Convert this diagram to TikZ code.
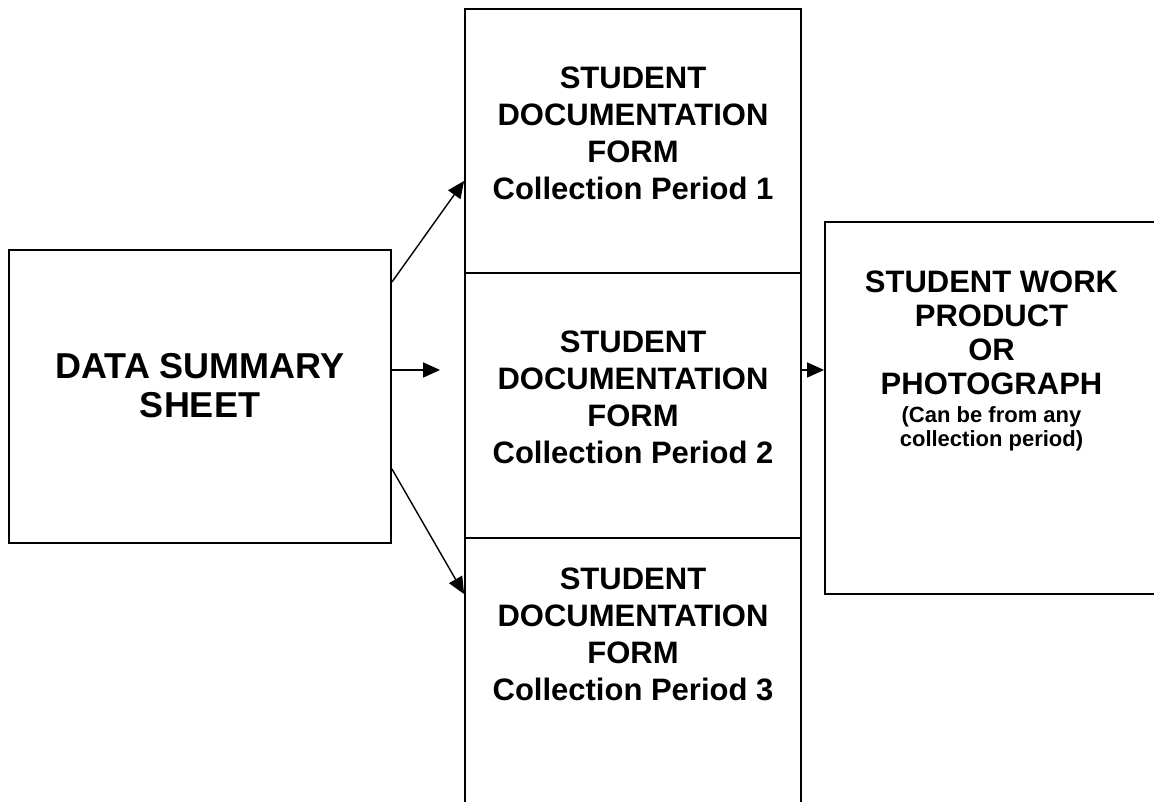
\documentclass[tikz,border=0pt]{standalone}
\usepackage{fontspec}
\setmainfont{Liberation Sans}
\usetikzlibrary{calc,arrows.meta}

\tikzset{
	box/.style={draw, line width=1.8pt, inner sep=0pt},
	bigtxt/.style={align=center, font=\fontsize{36}{39}\selectfont\bfseries},
	formtxt/.style={align=center, font=\fontsize{31}{37}\selectfont\bfseries},
	arr/.style={line width=1.4pt, -{Triangle[length=17pt,width=15pt]}}
}

\begin{document}
\begin{tikzpicture}[x=1pt, y=1pt]
			%%%%% START %%%%%
			\useasboundingbox (0, 0) rectangle (1154, 802);
			\clip (0, 0) rectangle (1154, 802);
			
			\node[box, minimum width=382pt, minimum height=293pt] (sheet) at (200, 405.5) {};
			\node[bigtxt] (sheettxt) at ([yshift=11pt]sheet.center) {DATA SUMMARY\\SHEET};
			
			\node[box, minimum width=336pt, minimum height=264pt] (form1) at (633, 661) {};
			\node[box, minimum width=336pt, minimum height=265pt] (form2) at (633, 396.5) {};
			\node[box, minimum width=336pt, minimum height=265pt] (form3) at (633, 131.5) {};
			
			\node[formtxt] (form1txt) at ([yshift=8pt]form1.center) {STUDENT\\DOCUMENTATION\\FORM\\Collection Period 1};
			\node[formtxt] (form2txt) at ([yshift=8pt]form2.center) {STUDENT\\DOCUMENTATION\\FORM\\Collection Period 2};
			\node[formtxt] (form3txt) at ([yshift=36pt]form3.center) {STUDENT\\DOCUMENTATION\\FORM\\Collection Period 3};
			
			\node[box, minimum width=333pt, minimum height=372pt] (product) at (991.5, 394) {};
			\node[align=center, anchor=north, inner sep=0pt, font=\fontsize{31}{34}\selectfont\bfseries] (producttxt) at ([yshift=-50pt]product.north)
				{STUDENT WORK\\PRODUCT\\OR\\PHOTOGRAPH\\[-6pt]
				 {\fontsize{22}{24}\selectfont (Can be from any}\\[-10pt]
				 {\fontsize{22}{24}\selectfont collection period)}};
			
			\draw[arr] ([yshift=-33pt]sheet.north east) -- ([yshift=93pt]form1.south west);
			\draw[arr] ([yshift=26.5pt]sheet.east) -- ([xshift=-24pt, yshift=35.5pt]form2.west);
			\draw[arr] ([yshift=75pt]sheet.south east) -- ([yshift=-57pt]form3.north west);
			\draw[arr] ([yshift=35.5pt]form2.east) -- ([yshift=35.5pt]form2.east -| product.west);
			
			%%%%% END %%%%%
\end{tikzpicture}
\end{document}
